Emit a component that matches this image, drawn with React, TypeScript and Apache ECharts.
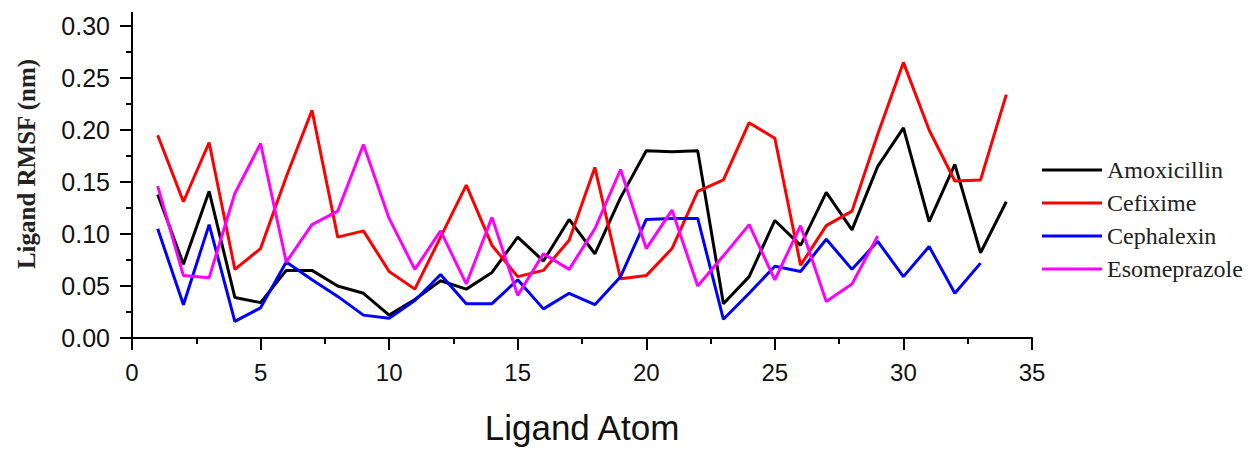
import React, { useEffect, useRef } from "react";
import * as echarts from "echarts";

const atoms = [1, 2, 3, 4, 5, 6, 7, 8, 9, 10, 11, 12, 13, 14, 15, 16, 17, 18, 19, 20, 21, 22, 23, 24, 25, 26, 27, 28, 29, 30, 31, 32, 33, 34];

const amoxicillin = [0.138, 0.071, 0.141, 0.039, 0.034, 0.065, 0.065, 0.050, 0.043, 0.022, 0.037, 0.055, 0.047, 0.063, 0.097, 0.074, 0.114, 0.081, 0.135, 0.180, 0.179, 0.180, 0.033, 0.059, 0.113, 0.089, 0.140, 0.104, 0.165, 0.202, 0.112, 0.167, 0.082, 0.131];
const cefixime = [0.195, 0.131, 0.188, 0.066, 0.086, 0.155, 0.219, 0.097, 0.103, 0.064, 0.047, 0.097, 0.147, 0.089, 0.059, 0.065, 0.094, 0.164, 0.057, 0.060, 0.086, 0.141, 0.152, 0.207, 0.192, 0.070, 0.108, 0.122, 0.196, 0.265, 0.200, 0.151, 0.152, 0.234];
const cephalexin = [0.105, 0.032, 0.109, 0.016, 0.029, 0.073, 0.056, 0.040, 0.022, 0.019, 0.036, 0.061, 0.033, 0.033, 0.056, 0.028, 0.043, 0.032, 0.059, 0.114, 0.115, 0.115, 0.018, 0.043, 0.069, 0.064, 0.095, 0.066, 0.093, 0.059, 0.088, 0.043, 0.072];
const esomeprazole = [0.146, 0.060, 0.058, 0.139, 0.187, 0.073, 0.109, 0.122, 0.186, 0.115, 0.066, 0.103, 0.052, 0.116, 0.041, 0.081, 0.066, 0.105, 0.162, 0.086, 0.123, 0.050, 0.079, 0.109, 0.056, 0.108, 0.035, 0.052, 0.098];

const seriesNames = ["Amoxicillin", "Cefixime", "Cephalexin", "Esomeprazole"];
const seriesValues = [amoxicillin, cefixime, cephalexin, esomeprazole];
const seriesColors = ["#000000", "#ff0000", "#0000ff", "#ff00ff"];

const xTitle = "Ligand Atom";
const yTitle = "Ligand RMSF (nm)";

export default function App() {
  const ref = useRef<HTMLDivElement>(null);

  useEffect(() => {
    if (!ref.current) return;
    const chart = echarts.init(ref.current, undefined, { renderer: "svg" });
    const gridLeft = 132;
    const gridTop = 26;
    const gridBottom = 114;
    chart.setOption({
      animation: false,
      backgroundColor: "#ffffff",
      grid: { left: gridLeft, right: 222, top: gridTop, bottom: gridBottom, containLabel: false },
      legend: {
        orient: "vertical",
        left: 1037,
        top: 153,
        icon: "rect",
        itemWidth: 60,
        itemHeight: 3,
        itemGap: 9,
        data: seriesNames,
        textStyle: { fontFamily: "Liberation Serif", fontSize: 24, color: "#222", lineHeight: 24 },
      },
      xAxis: {
        type: "value",
        min: 0,
        max: 35,
        interval: 5,
        name: xTitle,
        nameLocation: "middle",
        nameGap: 72,
        nameTextStyle: { fontFamily: "Liberation Sans", fontSize: 35, color: "#111" },
        axisLine: { show: true, lineStyle: { color: "#000", width: 2 } },
        axisTick: { show: true, inside: false, length: 12, lineStyle: { color: "#000", width: 2 } },
        minorTick: { show: true, splitNumber: 2, length: 6, lineStyle: { color: "#000", width: 2 } },
        axisLabel: { fontFamily: "Liberation Sans", fontSize: 24, color: "#111", margin: 22 },
        splitLine: { show: false },
      },
      yAxis: {
        type: "value",
        min: 0,
        max: 0.3,
        interval: 0.05,
        axisLine: { show: true, lineStyle: { color: "#000", width: 2 } },
        axisTick: { show: true, inside: false, length: 12, lineStyle: { color: "#000", width: 2 } },
        minorTick: { show: true, splitNumber: 2, length: 6, lineStyle: { color: "#000", width: 2 } },
        axisLabel: {
          fontFamily: "Liberation Sans",
          fontSize: 25,
          color: "#111",
          margin: 22,
          formatter: (v: number) => v.toFixed(2),
        },
        splitLine: { show: false },
      },
      graphic: [
        {
          type: "line",
          shape: { x1: gridLeft, y1: 12, x2: gridLeft, y2: gridTop },
          style: { stroke: "#000", lineWidth: 2 },
        },
        {
          type: "text",
          x: 26,
          y: 164,
          rotation: Math.PI / 2,
          style: {
            text: yTitle,
            font: "bold 25px 'Liberation Serif'",
            fill: "#222",
            textAlign: "center",
            textVerticalAlign: "middle",
          },
        },
      ],
      series: seriesNames.map((name, i) => ({
        name,
        type: "line",
        symbol: "none",
        showSymbol: false,
        color: seriesColors[i],
        lineStyle: { color: seriesColors[i], width: 3 },
        data: seriesValues[i].map((v, j) => [atoms[j], v]),
      })),
    });
    return () => chart.dispose();
  }, []);

  return (
    <div
      ref={ref}
      style={{ position: "fixed", left: 0, top: 0, width: 1254, height: 452, background: "#fff" }}
    />
  );
}
